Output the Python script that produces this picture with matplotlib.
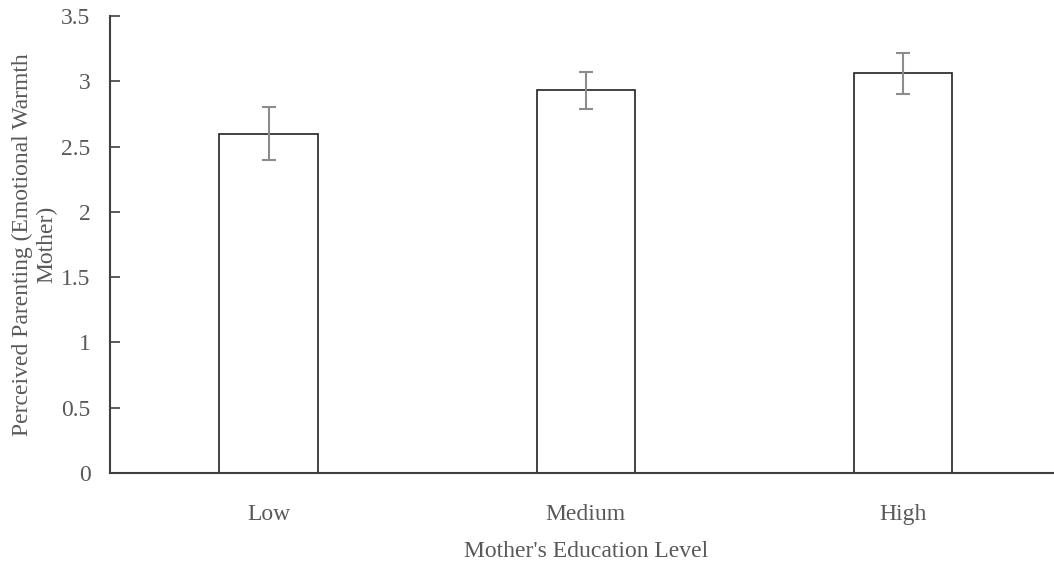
import matplotlib.pyplot as plt

# Data
levels = ["Low", "Medium", "High"]
means = [2.60, 2.93, 3.06]
errors = [0.20, 0.14, 0.16]
yticks = [0, 0.5, 1, 1.5, 2, 2.5, 3, 3.5]
ytick_labels = ["0", "0.5", "1", "1.5", "2", "2.5", "3", "3.5"]

plt.rcParams['font.family'] = ['Liberation Serif', 'DejaVu Serif']
text_color = '#595959'

fig = plt.figure(figsize=(10.54, 5.67), dpi=100)
ax = fig.add_axes([110 / 1054, 94 / 567, 951.5 / 1054, 457 / 567])

x = range(len(levels))
ax.bar(x, means, width=0.31, color='white', edgecolor='#222222', linewidth=1.2,
       yerr=errors, error_kw=dict(ecolor='#8c8c8c', elinewidth=1.5, capsize=5, capthick=1.5))

ax.set_xlim(-0.5, 2.5)
ax.set_ylim(0, 3.5)
ax.set_yticks(yticks)
ax.set_yticklabels(ytick_labels)
ax.set_xticks(list(x))
ax.set_xticklabels(levels)

for side in ['top', 'right']:
    ax.spines[side].set_visible(False)
for side in ['left', 'bottom']:
    ax.spines[side].set_color('#404040')
    ax.spines[side].set_linewidth(1.5)

ax.tick_params(axis='y', direction='in', length=7, width=1.2, color='#404040',
               labelsize=17, labelcolor=text_color, pad=14)
ax.tick_params(axis='x', length=0, labelsize=17, labelcolor=text_color, pad=22)

ax.set_xlabel("Mother's Education Level", fontsize=17, color=text_color, labelpad=12)
ax.set_ylabel("Perceived Parenting (Emotional Warmth\nMother)", fontsize=17,
              color=text_color, labelpad=3, linespacing=1.15)

fig.savefig('out.png', dpi=100)
